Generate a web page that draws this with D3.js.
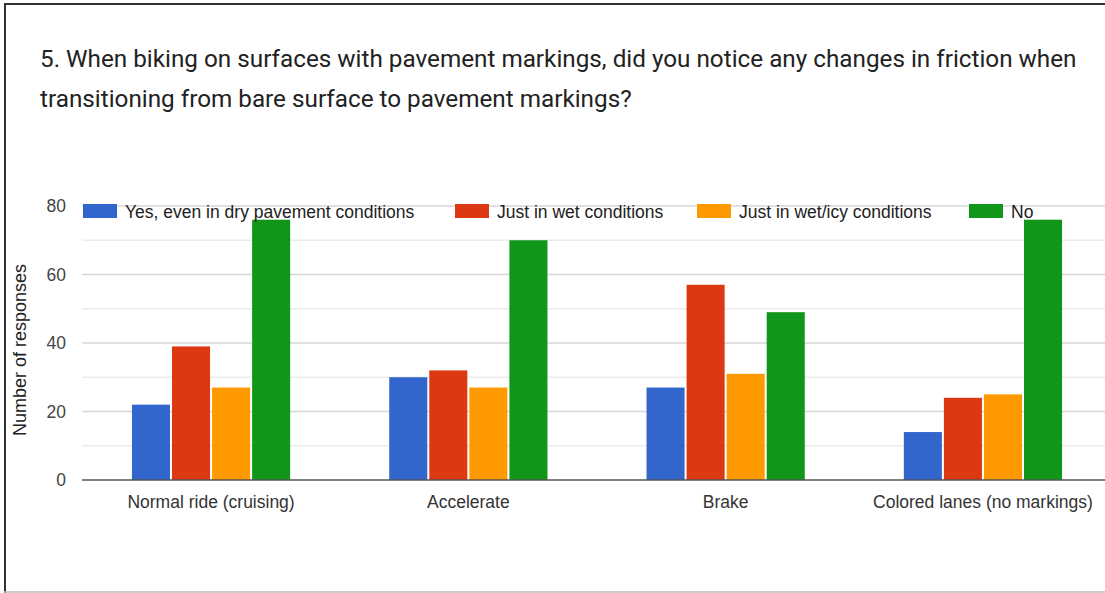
<!DOCTYPE html>
<html><head><meta charset="utf-8">
<script src="https://cdn.jsdelivr.net/npm/d3@7"></script>
<style>body{margin:0;background:#fff}svg{display:block}</style>
</head><body>
<script>
const categories = ["Normal ride (cruising)", "Accelerate", "Brake", "Colored lanes (no markings)"];
const seriesNames = ["Yes, even in dry pavement conditions", "Just in wet conditions", "Just in wet/icy conditions", "No"];
const yesDry = [22, 30, 27, 14];
const justWet = [39, 32, 57, 24];
const wetIcy = [27, 27, 31, 25];
const no = [76, 70, 49, 76];
const yTicks = [0, 20, 40, 60, 80];
const colors = ["#3366cc", "#dc3912", "#ff9900", "#109618"];
const titleLines = ["5. When biking on surfaces with pavement markings, did you notice any changes in friction when",
  "transitioning from bare surface to pavement markings?"];
const yTitle = "Number of responses";

const series = [yesDry, justWet, wetIcy, no];
const W = 1105, H = 593;
const svg = d3.select("body").append("svg").attr("width", W).attr("height", H);

// frame
svg.append("line").attr("x1",5).attr("x2",5).attr("y1",4).attr("y2",H).attr("stroke","#333").attr("stroke-width",2);
svg.append("line").attr("x1",4).attr("x2",W).attr("y1",4).attr("y2",4).attr("stroke","#333").attr("stroke-width",2);
svg.append("line").attr("x1",4).attr("x2",W).attr("y1",592).attr("y2",592).attr("stroke","#bbb").attr("stroke-width",1.5);

// title
const tfont = "Roboto, 'Liberation Sans', sans-serif";
const t1 = svg.append("text").attr("x",40).attr("y",67).attr("font-family",tfont).attr("font-size",20).attr("fill","#222").text(titleLines[0]);
const w1 = t1.node().getComputedTextLength();
const fs = 20 * 1037 / w1;
t1.attr("font-size", fs);
svg.append("text").attr("x",40).attr("y",107).attr("font-family",tfont).attr("font-size",fs).attr("fill","#222").text(titleLines[1]);

const left = 82.4, right = 1111.6;
const y = d3.scaleLinear().domain([0,80]).range([480,206]);
const x0 = d3.scaleBand().domain(categories).range([left,right]).paddingInner(0.385).paddingOuter(0.1925);
const x1 = d3.scaleBand().domain(d3.range(4)).range([0,x0.bandwidth()]).paddingInner(0.05);

const font = "'Liberation Sans', Arial, sans-serif";
// gridlines
svg.append("g").selectAll("line").data(d3.range(10,81,10)).join("line")
  .attr("x1",82).attr("x2",W).attr("y1",d=>y(d)).attr("y2",d=>y(d))
  .attr("stroke",d=>d%20===0?"#d6d6d6":"#ebebeb").attr("stroke-width",1.3);

// y labels
const yAxis = d3.axisLeft(y).tickValues(yTicks).tickSize(0).tickPadding(0);
const ga = svg.append("g").attr("transform","translate(66,0)").call(yAxis);
ga.select(".domain").remove();
ga.selectAll("text").attr("font-family",font).attr("font-size",17.5).attr("fill","#444");

svg.append("text").attr("transform","translate(26,350) rotate(-90)").attr("text-anchor","middle")
  .attr("font-family",font).attr("font-size",18).attr("fill","#222").text(yTitle);

// bars
const groups = svg.append("g").selectAll("g").data(categories).join("g")
  .attr("transform",d=>`translate(${x0(d)},0)`);
groups.selectAll("rect").data((c,i)=>series.map((s,k)=>({k,v:s[i]}))).join("rect")
  .attr("x",d=>x1(d.k)).attr("width",x1.bandwidth())
  .attr("y",d=>y(d.v)).attr("height",d=>y(0)-y(d.v)).attr("fill",d=>colors[d.k]);

// baseline
svg.append("line").attr("x1",82).attr("x2",W).attr("y1",y(0)).attr("y2",y(0)).attr("stroke","#555").attr("stroke-width",1.5);

// x labels
const xAxis = d3.axisBottom(x0).tickSize(0).tickPadding(0);
const gx = svg.append("g").attr("transform","translate(0,496)").call(xAxis);
gx.select(".domain").remove();
gx.selectAll("text").attr("font-family",font).attr("font-size",17.5).attr("fill","#333").attr("dy","0.71em");

// legend
const legX = [83, 455, 697, 969];
const leg = svg.append("g").selectAll("g").data(seriesNames).join("g")
  .attr("transform",(d,i)=>`translate(${legX[i]},204)`);
leg.append("rect").attr("width",34).attr("height",14).attr("fill",(d,i)=>colors[i]);
leg.append("text").attr("x",42).attr("y",13.5).attr("font-family",font).attr("font-size",17.5).attr("fill","#222").text(d=>d);
</script>
</body></html>
